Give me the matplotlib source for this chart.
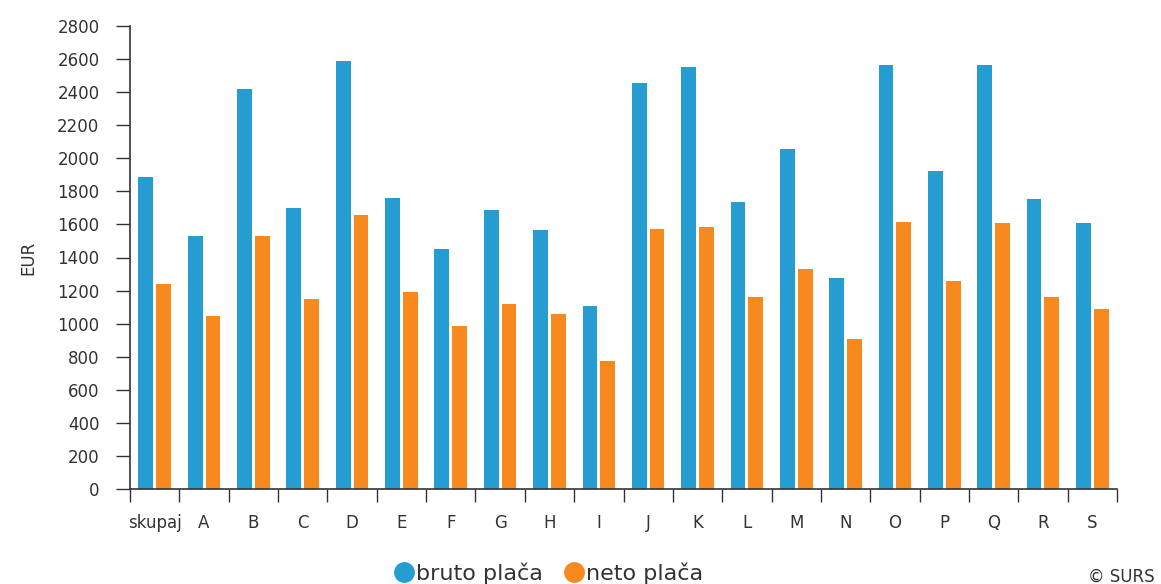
import numpy as np
import matplotlib.pyplot as plt
from matplotlib.lines import Line2D

plt.rcParams['font.family'] = ['DejaVu Sans']

# data
categories = ['skupaj', 'A', 'B', 'C', 'D', 'E', 'F', 'G', 'H', 'I',
              'J', 'K', 'L', 'M', 'N', 'O', 'P', 'Q', 'R', 'S']
bruto = [1886, 1530, 2418, 1699, 2588, 1761, 1449, 1689, 1568, 1108,
         2453, 2550, 1737, 2054, 1278, 2563, 1921, 2563, 1752, 1606]
neto = [1239, 1046, 1530, 1149, 1657, 1193, 987, 1120, 1060, 772,
        1570, 1582, 1159, 1328, 905, 1616, 1256, 1606, 1159, 1087]
yticks = list(range(0, 2801, 200))

blue = '#259DD3'
orange = '#F8891F'
txt = '#333333'

fig = plt.figure(figsize=(11.61, 5.84), dpi=100)
ax = fig.add_axes([130 / 1161, 1 - 489 / 584, 987 / 1161, 463 / 584])

x = np.arange(len(categories))
w = 0.30
ax.bar(x - w / 2 - 0.03, bruto, width=w, color=blue, label='bruto plača')
ax.bar(x + w / 2 + 0.03, neto, width=w, color=orange, label='neto plača')

ax.set_xlim(-0.5, len(categories) - 0.5)
ax.set_ylim(0, 2800)
ax.set_yticks(yticks)
ax.set_yticklabels([str(v) for v in yticks], fontsize=12, color=txt)
ax.set_xticks(x)
ax.set_xticklabels(categories, fontsize=12, color=txt)
ax.xaxis.set_tick_params(length=0, pad=18)
# category separators on the x axis
ax.set_xticks(np.arange(len(categories) + 1) - 0.5, minor=True)
ax.tick_params(axis='x', which='minor', length=9, color=txt, width=1)
ax.tick_params(axis='y', length=10, color=txt, width=1, pad=12)

for s in ['top', 'right']:
    ax.spines[s].set_visible(False)
for s in ['left', 'bottom']:
    ax.spines[s].set_color(txt)
    ax.spines[s].set_linewidth(1.2)

ax.set_ylabel('EUR', fontsize=12, color=txt, labelpad=14)

handles = [Line2D([], [], marker='o', linestyle='', markersize=14, color=blue),
           Line2D([], [], marker='o', linestyle='', markersize=14, color=orange)]
fig.legend(handles, ['bruto plača', 'neto plača'], loc='center',
           bbox_to_anchor=(548 / 1161, 1 - 573 / 584), ncol=2, frameon=False,
           fontsize=16, handletextpad=0.05, columnspacing=0.9,
           labelcolor=txt, handlelength=1.0)

fig.text(1155 / 1161, 1 - 577 / 584, '© SURS', fontsize=12, color=txt,
         ha='right', va='center')

fig.savefig('out.png', dpi=100)
